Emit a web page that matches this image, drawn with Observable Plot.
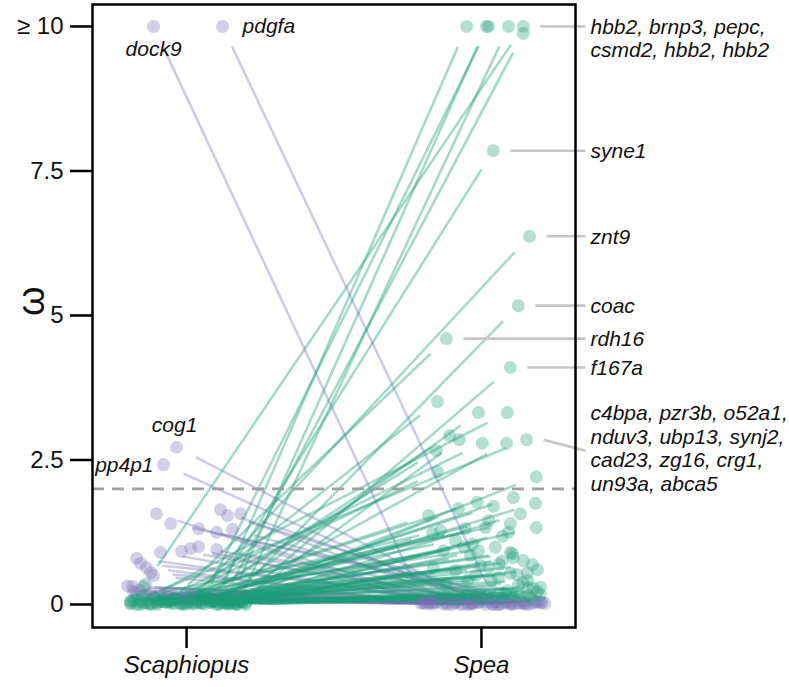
<!DOCTYPE html>
<html><head><meta charset="utf-8">
<script src="https://cdn.jsdelivr.net/npm/d3@7"></script>
<script src="https://cdn.jsdelivr.net/npm/@observablehq/plot@0.6"></script>
<style>
body{margin:0;background:#fff;}
#chart svg{display:block;}
g[aria-label="x-axis tick label"] text{font-style:italic;}
</style></head><body><div id="chart"></div>
<script>
const species = ["Scaphiopus", "Spea"];
const yTicks = [0, 2.5, 5, 7.5, 10];

// rows: [omega in Scaphiopus, omega in Spea, jitter Scaphiopus, jitter Spea]
const speaOutliers = [
  [0.05, 10, 0.10, -0.05],
  [0.10, 10, 0.15, 0.017],
  [0.02, 10, 0.05, 0.024],
  [0.08, 10, 0.18, 0.092],
  [0.35, 10, -0.14, 0.142],
  [0.04, 9.88, 0.12, 0.142],
  [0.06, 7.85, 0.08, 0.04],
  [0.10, 6.37, 0.02, 0.163],
  [0.03, 5.17, 0.14, 0.125],
  [0.07, 4.6, -0.05, -0.119],
  [0.12, 4.1, 0.19, 0.098],
  [0.02, 3.51, -0.02, -0.149],
  [0.09, 3.32, 0.11, -0.01],
  [0.05, 3.32, -0.16, 0.088],
  [0.14, 2.92, 0.06, -0.108],
  [0.01, 2.85, 0.17, -0.075],
  [0.06, 2.79, -0.09, 0.003],
  [0.11, 2.79, 0.13, 0.085],
  [0.03, 2.85, -0.19, 0.153],
  [0.08, 2.66, 0.04, -0.153],
  [0.04, 2.30, -0.07, -0.149],
  [0.13, 2.21, 0.16, 0.186]
];
const scaphOutliers = [
  [10, 0.03, -0.112, -0.197],
  [10, 0.04, 0.122, 0.047],
  [2.72, 0.05, -0.034, -0.017],
  [2.42, 0.02, -0.078, -0.03]
];
const scaphModerate = [
  [1.57, 0.02, -0.102, -0.18], [1.40, 0.04, -0.054, 0.20], [1.64, 0.01, 0.115, -0.06],
  [1.54, 0.03, 0.139, 0.12], [1.57, 0.05, 0.183, 0.02], [1.31, 0.00, 0.041, 0.16],
  [1.25, 0.03, 0.102, -0.12], [1.30, 0.02, 0.156, 0.07], [0.90, 0.04, -0.088, -0.15],
  [0.92, 0.01, -0.017, 0.10], [0.97, 0.03, 0.014, -0.09], [1.00, 0.00, 0.041, 0.04],
  [0.95, 0.05, 0.102, 0.18], [0.80, 0.02, -0.169, -0.04], [0.71, 0.04, -0.156, 0.14],
  [0.64, 0.01, -0.136, -0.165], [0.55, 0.03, -0.122, 0.08], [0.50, 0.00, -0.112, -0.10],
  [0.31, 0.02, -0.183, 0.215], [0.31, 0.05, -0.146, 0.0]
];
const speaModerate = [
  [0.02, 1.85, 0.03, 0.108], [0.08, 1.75, 0.12, 0.183], [0.00, 1.77, -0.10, -0.014],
  [0.12, 1.70, 0.07, 0.041], [0.05, 1.57, 0.17, 0.132], [0.10, 1.54, -0.04, -0.180],
  [0.03, 1.66, 0.15, -0.078], [0.15, 1.40, -0.15, 0.098], [0.06, 1.33, 0.09, 0.186],
  [0.01, 1.33, -0.12, 0.014], [0.09, 1.18, 0.19, 0.071], [0.04, 1.31, 0.01, -0.054],
  [0.11, 1.11, -0.08, -0.088], [0.02, 0.93, 0.13, -0.010], [0.07, 0.99, -0.18, 0.047],
  [0.13, 0.90, 0.05, 0.098], [0.00, 0.81, 0.11, 0.108], [0.05, 0.76, -0.06, 0.142],
  [0.08, 0.69, 0.16, 0.173], [0.03, 0.67, -0.14, -0.003], [0.10, 0.64, 0.08, 0.024],
  [0.01, 0.85, -0.02, -0.037], [0.06, 0.54, 0.18, 0.098], [0.12, 0.55, -0.11, 0.156],
  [0.04, 0.47, 0.04, 0.058], [0.09, 0.29, -0.17, 0.159], [0.02, 0.28, 0.14, 0.176],
  [0.07, 0.33, -0.05, 0.125], [0.00, 0.24, 0.10, 0.088], [0.05, 0.93, -0.09, -0.129],
  [0.11, 1.23, 0.06, -0.166], [0.03, 0.64, 0.20, -0.163], [0.08, 1.28, -0.13, -0.139],
  [0.01, 0.59, 0.02, -0.088], [0.06, 0.42, -0.19, -0.047], [0.10, 0.42, 0.12, 0.034],
  [0.04, 0.42, -0.07, 0.156], [0.02, 1.25, 0.17, 0.092], [0.09, 0.88, -0.03, 0.105],
  [0.05, 0.60, 0.09, 0.190], [0.00, 1.00, -0.16, -0.060], [0.07, 0.75, 0.15, 0.070],
  [0.03, 1.45, -0.01, 0.025], [0.12, 0.35, 0.05, -0.120], [0.01, 0.50, -0.12, -0.020],
  [0.04, 0.38, 0.08, 0.140], [0.02, 0.70, -0.05, 0.060], [0.06, 1.05, 0.13, -0.030],
  [0.01, 0.30, 0.00, 0.200], [0.08, 0.52, -0.10, 0.120]
];
const nearZero = [
  [0.00, 0.18, -0.17, 0.10], [0.03, 0.12, 0.08, -0.02], [0.01, 0.22, 0.16, 0.19],
  [0.05, 0.15, -0.08, 0.13], [0.02, 0.09, 0.11, -0.11], [0.00, 0.20, -0.01, 0.06],
  [0.04, 0.11, 0.19, 0.17], [0.01, 0.16, -0.13, -0.05], [0.03, 0.14, 0.05, 0.15],
  [0.00, 0.10, 0.14, 0.00], [0.02, 0.19, -0.04, 0.08], [0.06, 0.13, 0.09, 0.11],
  [0.01, 0.08, -0.19, -0.08], [0.04, 0.17, 0.02, 0.20], [0.00, 0.13, 0.17, 0.04],
  [0.03, 0.21, -0.10, 0.12], [0.02, 0.11, -0.15, 0.07], [0.01, 0.15, 0.06, 0.16],
  [0.00, 0.09, 0.20, -0.14], [0.04, 0.14, -0.06, 0.02],
  [0.32, 0.01, -0.20, -0.13], [0.25, 0.03, -0.16, 0.09], [0.18, 0.00, -0.12, -0.07],
  [0.22, 0.02, -0.18, 0.15], [0.15, 0.04, -0.06, -0.16], [0.12, 0.01, 0.03, 0.11],
  [0.20, 0.03, -0.09, -0.01], [0.10, 0.00, 0.10, 0.06], [0.14, 0.02, 0.18, -0.19],
  [0.16, 0.04, -0.14, 0.19], [0.11, 0.01, 0.07, -0.03], [0.09, 0.02, -0.02, 0.13],
  [0.13, 0.00, -0.11, -0.115], [0.08, 0.01, 0.05, 0.035], [0.19, 0.03, -0.17, 0.205],
  [0.07, 0.00, 0.14, -0.045], [0.12, 0.02, -0.04, 0.175], [0.10, 0.04, 0.16, -0.085],
  [0.06, 0.01, 0.01, 0.100], [0.17, 0.00, -0.13, 0.055], [0.09, 0.03, 0.12, -0.175],
  [0.14, 0.01, -0.07, 0.145], [0.05, 0.00, 0.19, 0.015], [0.11, 0.02, -0.01, -0.205]
];

const rightLabelText = [
  "hbb2, brnp3, pepc,\ncsmd2, hbb2, hbb2",
  "syne1", "znt9", "coac", "rdh16", "f167a",
  "c4bpa, pzr3b, o52a1,\nnduv3, ubp13, synj2,\ncad23, zg16, crg1,\nun93a, abca5"
];
const rightLabelGene = [4, 6, 7, 8, 9, 10, 18]; // index into speaOutliers
const leftLabelText = ["dock9", "pdgfa", "cog1", "pp4p1"]; // scaphOutliers 0..3

// ---- layout ----
const W = 789, H = 687, ML = 92, MR = 214, MT = 4, MB = 60;
const xDom = [0.681, 2.319], yDom = [-0.398, 10.38];
const kx = (W - ML - MR) / (xDom[1] - xDom[0]);
const ky = (H - MT - MB) / (yDom[1] - yDom[0]);
const GREEN = "#1b9e77", PURPLE = "#7570b3";
const cap = v => Math.min(v, 10);

const toRow = ([s1, s2, j1, j2]) => ({s1, s2, j1, j2, up: s2 > s1});
const rows = [...scaphOutliers, ...scaphModerate, ...nearZero, ...speaModerate, ...speaOutliers].map(toRow);
const down = rows.filter(d => !d.up), up = rows.filter(d => d.up);

const TRIM = 22;
function seg(d) {
  const x1 = 1 + d.j1, y1 = cap(d.s1), x2 = 2 + d.j2, y2 = cap(d.s2);
  const len = Math.hypot((x2 - x1) * kx, (y2 - y1) * ky);
  const t = TRIM / len;
  return {x1: x1 + (x2 - x1) * t, y1: y1 + (y2 - y1) * t, x2: x2 - (x2 - x1) * t, y2: y2 - (y2 - y1) * t};
}
const downSeg = down.map(seg), upSeg = up.map(seg);

const pts = rows.flatMap(d => [
  {x: 1 + d.j1, y: cap(d.s1), up: d.up},
  {x: 2 + d.j2, y: cap(d.s2), up: d.up}
]);

const rightLabels = rightLabelText.map((text, i) => {
  const g = toRow(speaOutliers[rightLabelGene[i]]);
  const nLines = text.split("\n").length;
  const textShift = nLines === 1 ? 0 : nLines === 2 ? 11.5 : 8; // px downward
  const lineDrop = nLines > 2 ? 11 : 0;
  return {
    text,
    px: 2 + g.j2 + 17 / kx, py: cap(g.s2),
    ex: xDom[1] + 10 / kx, ey: cap(g.s2) - lineDrop / ky,
    ty: cap(g.s2) - textShift / ky
  };
});

const leftStyles = [
  {dx: 0, dy: 23, textAnchor: "middle"},
  {dx: 20, dy: 0, textAnchor: "start"},
  {dx: -2, dy: -22, textAnchor: "middle"},
  {dx: -10, dy: 1, textAnchor: "end"}
];
const leftMarks = leftLabelText.map((t, i) => {
  const g = toRow(scaphOutliers[i]);
  return Plot.text([{x: 1 + g.j1, y: cap(g.s1), t}], {
    x: "x", y: "y", text: "t", fontSize: 21, fontStyle: "italic", fill: "#111", ...leftStyles[i]
  });
});

const chart = Plot.plot({
  width: W, height: H,
  marginLeft: ML, marginRight: MR, marginTop: MT, marginBottom: MB,
  x: {domain: xDom},
  y: {domain: yDom},
  style: {fontFamily: '"Liberation Sans", Arial, Helvetica, sans-serif', background: "#fff"},
  marks: [
    Plot.link(downSeg, {x1: "x1", y1: "y1", x2: "x2", y2: "y2", stroke: PURPLE, strokeOpacity: 0.36, strokeWidth: 2.5}),
    Plot.link(upSeg, {x1: "x1", y1: "y1", x2: "x2", y2: "y2", stroke: GREEN, strokeOpacity: 0.4, strokeWidth: 2.5}),
    Plot.ruleY([2], {stroke: "#a0a0a0", strokeWidth: 2.6, strokeDasharray: "12,8"}),
    Plot.dot(pts.filter(d => !d.up), {x: "x", y: "y", r: 6.5, fill: PURPLE, fillOpacity: 0.33, stroke: "none"}),
    Plot.dot(pts.filter(d => d.up), {x: "x", y: "y", r: 6.5, fill: GREEN, fillOpacity: 0.33, stroke: "none"}),
    Plot.link(rightLabels, {x1: "px", y1: "py", x2: "ex", y2: "ey", stroke: "#c6c6c6", strokeWidth: 2.6}),
    Plot.text(rightLabels, {frameAnchor: "right", y: "ty", text: "text", dx: 15, textAnchor: "start",
      fontSize: 21, fontStyle: "italic", lineHeight: 1.12, fill: "#111"}),
    ...leftMarks,
    Plot.frame({stroke: "#000", strokeWidth: 2.5}),
    Plot.axisY({ticks: yTicks, tickFormat: d => d === 10 ? "≥ 10" : String(d), tickSize: 22, tickPadding: 7,
      fontSize: 24, label: null, strokeWidth: 2.5, stroke: "#000", fill: "#111"}),
    Plot.axisX({ticks: [1, 2], tickFormat: d => species[d - 1], tickSize: 21, tickPadding: 7,
      fontSize: 24, fontStyle: "italic", label: null, strokeWidth: 2.5, stroke: "#000", fill: "#111"}),
    Plot.text(["ω"], {frameAnchor: "left", text: d => d, rotate: -90, dx: -61, fontSize: 38, fill: "#111"})
  ]
});
document.getElementById("chart").append(chart);
</script>
</body></html>
